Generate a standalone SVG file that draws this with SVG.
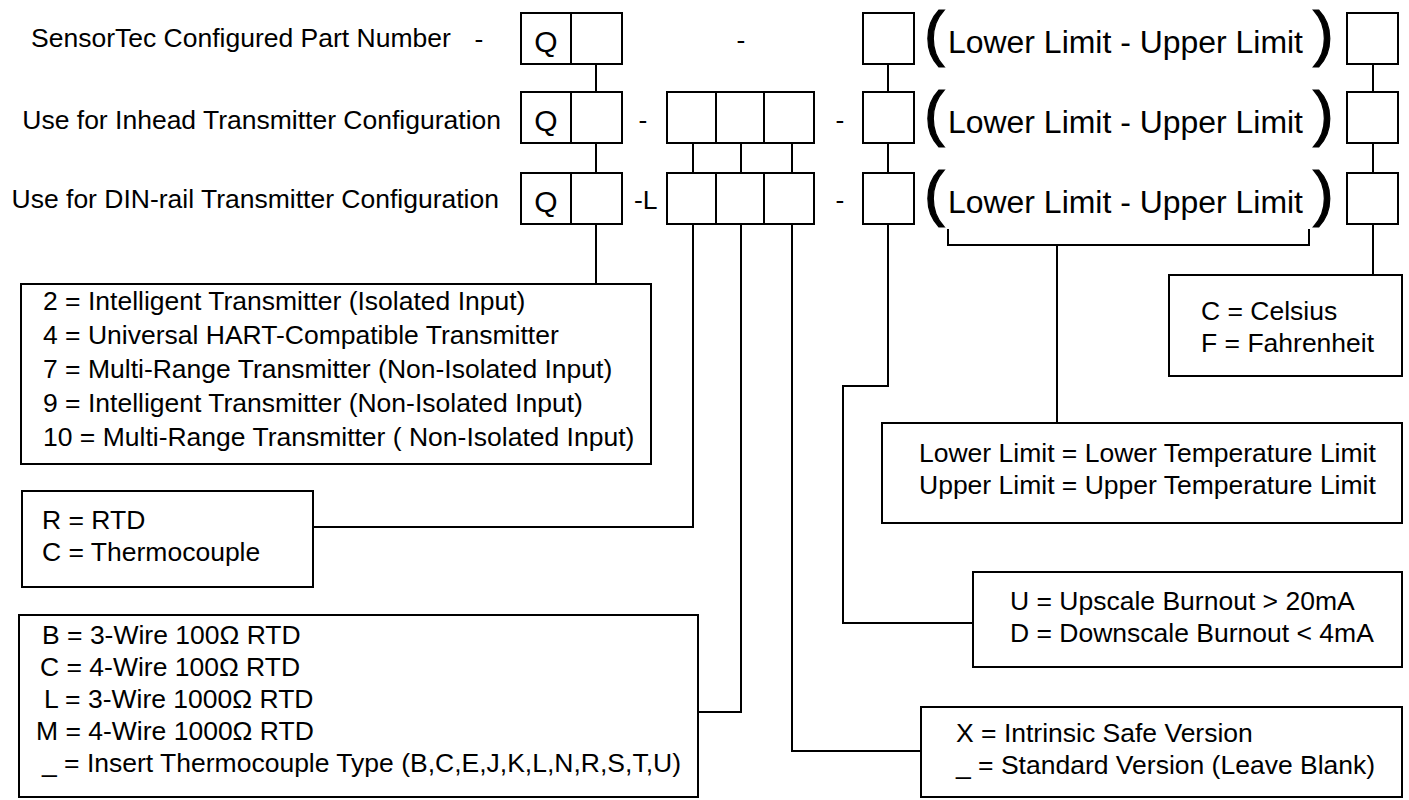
<svg xmlns="http://www.w3.org/2000/svg" width="1409" height="800" viewBox="0 0 1409 800">
<style>
rect, .ln { fill: none; stroke: #000; stroke-width: 2; }
rect.bg { fill: #fff; stroke: none; }
text { font-family: "Liberation Sans", Arial, sans-serif; font-size: 26.5px; fill: #000; }
.q { font-size: 30px; text-anchor: middle; }
.mid { text-anchor: middle; }
.end { text-anchor: end; }
.lim { font-size: 31px; }
.par { font-size: 62px; stroke: #000; stroke-width: 1.2; }
</style>
<rect class="bg" x="0" y="0" width="1409" height="800"/>

<g id="row-labels">
  <text x="31" y="47">SensorTec Configured Part Number</text>
  <text x="479" y="48" class="mid">-</text>
  <text x="501" y="129" class="end">Use for Inhead Transmitter Configuration</text>
  <text x="499" y="208" class="end">Use for DIN-rail Transmitter Configuration</text>
</g>

<g id="q-boxes">
  <rect x="521" y="13" width="101" height="51"/>
  <line class="ln" x1="571" y1="13" x2="571" y2="64"/>
  <text x="546" y="52" class="q">Q</text>
  <rect x="521" y="92" width="101" height="51"/>
  <line class="ln" x1="571" y1="92" x2="571" y2="143"/>
  <text x="546" y="131" class="q">Q</text>
  <rect x="521" y="173" width="101" height="51"/>
  <line class="ln" x1="571" y1="173" x2="571" y2="224"/>
  <text x="546" y="212" class="q">Q</text>
</g>

<g id="separators">
  <text x="741" y="49" class="mid">-</text>
  <text x="643" y="129" class="mid">-</text>
  <text x="634" y="209">-L</text>
  <text x="840" y="129" class="mid">-</text>
  <text x="840" y="209" class="mid">-</text>
</g>

<g id="sensor-boxes">
  <rect x="667" y="92" width="147" height="51"/>
  <line class="ln" x1="716" y1="92" x2="716" y2="143"/>
  <line class="ln" x1="764" y1="92" x2="764" y2="143"/>
  <rect x="667" y="173" width="147" height="51"/>
  <line class="ln" x1="716" y1="173" x2="716" y2="224"/>
  <line class="ln" x1="764" y1="173" x2="764" y2="224"/>
</g>

<g id="burnout-boxes">
  <rect x="863" y="13" width="51" height="51"/>
  <rect x="863" y="92" width="51" height="51"/>
  <rect x="863" y="173" width="51" height="51"/>
</g>

<g id="limits">
  <text x="924" y="54" class="par">(</text>
  <text x="948" y="53" class="lim" textLength="355" lengthAdjust="spacingAndGlyphs">Lower Limit - Upper Limit</text>
  <text x="1313" y="54" class="par">)</text>
  <text x="924" y="134" class="par">(</text>
  <text x="948" y="133" class="lim" textLength="355" lengthAdjust="spacingAndGlyphs">Lower Limit - Upper Limit</text>
  <text x="1313" y="134" class="par">)</text>
  <text x="924" y="214" class="par">(</text>
  <text x="948" y="213" class="lim" textLength="355" lengthAdjust="spacingAndGlyphs">Lower Limit - Upper Limit</text>
  <text x="1313" y="214" class="par">)</text>
</g>

<g id="unit-boxes">
  <rect x="1347" y="13" width="51" height="51"/>
  <rect x="1347" y="92" width="51" height="51"/>
  <rect x="1347" y="173" width="51" height="51"/>
</g>

<g id="connectors">
  <path class="ln" d="M596 64 V92 M596 143 V173 M596 224 V284"/>
  <path class="ln" d="M693 143 V173 M741 143 V173 M792 143 V173"/>
  <path class="ln" d="M693 224 V527 H313"/>
  <path class="ln" d="M741 224 V712 H698"/>
  <path class="ln" d="M792 224 V751 H921"/>
  <path class="ln" d="M888 64 V92 M888 143 V173 M888 224 V386 H843 V623 H973"/>
  <path class="ln" d="M948 229 V245 H1309 V229 M1057 245 V423"/>
  <path class="ln" d="M1373 64 V92 M1373 143 V173 M1373 224 V275"/>
</g>

<g id="transmitter-types">
  <rect x="21" y="284" width="630" height="180"/>
  <text x="43" y="310">2 = Intelligent Transmitter (Isolated Input)</text>
  <text x="43" y="344">4 = Universal HART-Compatible Transmitter</text>
  <text x="43" y="378">7 = Multi-Range Transmitter (Non-Isolated Input)</text>
  <text x="43" y="412">9 = Intelligent Transmitter (Non-Isolated Input)</text>
  <text x="43" y="446">10 = Multi-Range Transmitter ( Non-Isolated Input)</text>
</g>

<g id="sensor-type">
  <rect x="22" y="491" width="291" height="96"/>
  <text x="42" y="529">R = RTD</text>
  <text x="42" y="561">C = Thermocouple</text>
</g>

<g id="element-type">
  <rect x="19" y="615" width="679" height="182"/>
  <text x="42" y="644">B = 3-Wire 100Ω RTD</text>
  <text x="40" y="676">C = 4-Wire 100Ω RTD</text>
  <text x="44" y="708">L = 3-Wire 1000Ω RTD</text>
  <text x="36" y="740">M = 4-Wire 1000Ω RTD</text>
  <text x="42" y="772">_ = Insert Thermocouple Type (B,C,E,J,K,L,N,R,S,T,U)</text>
</g>

<g id="units">
  <rect x="1169" y="275" width="233" height="101"/>
  <text x="1201" y="320">C = Celsius</text>
  <text x="1201" y="352">F = Fahrenheit</text>
</g>

<g id="limit-legend">
  <rect x="882" y="423" width="520" height="100"/>
  <text x="919" y="462">Lower Limit = Lower Temperature Limit</text>
  <text x="919" y="494">Upper Limit = Upper Temperature Limit</text>
</g>

<g id="burnout">
  <rect x="973" y="572" width="429" height="95"/>
  <text x="1010" y="610">U = Upscale Burnout &gt; 20mA</text>
  <text x="1010" y="642">D = Downscale Burnout &lt; 4mA</text>
</g>

<g id="version">
  <rect x="921" y="707" width="481" height="90"/>
  <text x="956" y="742">X = Intrinsic Safe Version</text>
  <text x="956" y="774">_ = Standard Version (Leave Blank)</text>
</g>
</svg>
